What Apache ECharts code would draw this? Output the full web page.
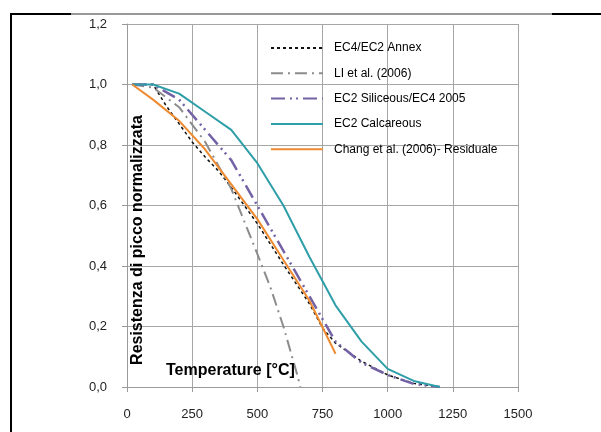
<!DOCTYPE html>
<html>
<head>
<meta charset="utf-8">
<script src="https://cdn.jsdelivr.net/npm/echarts@6/dist/echarts.min.js"></script>
<style>
  html, body { margin: 0; padding: 0; background: #fff; }
  #chart { width: 601px; height: 432px; }
</style>
</head>
<body>
<div id="chart"></div>
<script>
// temperature [°C] and normalised peak strength
const annexT = [20, 100, 150, 200, 250, 300, 350, 400, 450, 500, 600, 700, 750, 800, 900, 1000, 1100, 1200]
const annexK = [1.0, 1.0, 0.93, 0.87, 0.81, 0.76, 0.715, 0.66, 0.6, 0.54, 0.405, 0.275, 0.195, 0.145, 0.085, 0.04, 0.012, 0.0]

const liT = [20, 100, 200, 300, 400, 500, 550, 600, 650, 665]
const liK = [1.0, 0.99, 0.925, 0.81, 0.655, 0.44, 0.33, 0.2, 0.05, 0.0]

const silT = [20, 100, 200, 300, 400, 500, 600, 700, 800, 900, 1000, 1100, 1200]
const silK = [1.0, 1.0, 0.95, 0.85, 0.75, 0.6, 0.45, 0.3, 0.15, 0.08, 0.04, 0.01, 0.0]

const calT = [20, 100, 200, 300, 400, 500, 600, 700, 800, 900, 1000, 1100, 1200]
const calK = [1.0, 1.0, 0.97, 0.91, 0.85, 0.74, 0.6, 0.43, 0.27, 0.15, 0.06, 0.02, 0.0]

const changT = [20, 100, 200, 300, 400, 500, 600, 700, 800]
const changK = [1.0, 0.95, 0.88, 0.785, 0.67, 0.555, 0.42, 0.285, 0.11]

const names = ['EC4/EC2 Annex', 'LI et al. (2006)', 'EC2 Siliceous/EC4 2005', 'EC2 Calcareous', 'Chang et al. (2006)- Residuale']

const pairs = (t, k) => t.map((x, i) => [x, k[i]])
const font = 'Liberation Sans, Arial, sans-serif'

const line = (name, t, k, color, width, type) => ({
    name: name,
    type: 'line',
    data: pairs(t, k),
    symbol: 'none',
    showSymbol: false,
    lineStyle: { color: color, width: width, type: type },
    itemStyle: { color: color }
})

const myChart = echarts.init(document.getElementById('chart'))
myChart.setOption({
    animation: false,
    backgroundColor: '#fff',
    grid: { left: 127, right: 83, top: 24, bottom: 45 },
    legend: {
        orient: 'vertical',
        left: 270,
        top: 42,
        itemWidth: 52,
        itemHeight: 14,
        itemGap: 13.3,
        padding: 0,
        data: names,
        itemStyle: { opacity: 0 },
        textStyle: { fontFamily: font, fontSize: 12, color: '#000', padding: [0, 0, 0, 6] }
    },
    xAxis: {
        type: 'value',
        min: 0,
        max: 1500,
        interval: 250,
        axisLine: { lineStyle: { color: '#9a9a9a' } },
        axisTick: { show: true, length: 5, lineStyle: { color: '#9a9a9a' } },
        axisLabel: { margin: 21, fontFamily: font, fontSize: 13, color: '#222', formatter: v => String(v) },
        splitLine: { show: true, lineStyle: { color: '#a6a6a6', width: 1 } }
    },
    yAxis: {
        type: 'value',
        min: 0,
        max: 1.2,
        interval: 0.2,
        axisLine: { show: true, lineStyle: { color: '#9a9a9a' } },
        axisTick: { show: true, length: 5, lineStyle: { color: '#9a9a9a' } },
        axisLabel: {
            margin: 20, fontFamily: font, fontSize: 13, color: '#222',
            formatter: v => v.toFixed(1).replace('.', ',')
        },
        splitLine: { show: true, lineStyle: { color: '#a6a6a6', width: 1 } }
    },
    series: [
        line(names[0], annexT, annexK, '#111', 1.5, [3, 3]),
        line(names[1], liT, liK, '#8c8c8c', 2, [12, 5, 2, 5]),
        line(names[2], silT, silK, '#7462a6', 2.5, [14, 5, 2, 4, 2, 5]),
        line(names[3], calT, calK, '#2e9ea8', 2, 'solid'),
        line(names[4], changT, changK, '#ee8a30', 2, 'solid')
    ],
    graphic: [
        // frame pieces around the picture
        { type: 'line', shape: { x1: 11, y1: 14, x2: 601, y2: 14 }, style: { stroke: '#333', lineWidth: 1 } },
        { type: 'line', shape: { x1: 11, y1: 14, x2: 71, y2: 14 }, style: { stroke: '#000', lineWidth: 2 } },
        { type: 'line', shape: { x1: 552, y1: 14, x2: 601, y2: 14 }, style: { stroke: '#000', lineWidth: 2 } },
        { type: 'line', shape: { x1: 11, y1: 13, x2: 11, y2: 432 }, style: { stroke: '#000', lineWidth: 2 } },
        // axis titles sit inside the plot
        {
            type: 'text', left: 166, top: 363, z: 10,
            style: { text: 'Temperature [°C]', font: 'bold 16px ' + font, fill: '#000' }
        },
        {
            type: 'text', x: 138, y: 240, rotation: Math.PI / 2, z: 10,
            style: { text: 'Resistenza di picco normalizzata', font: 'bold 16px ' + font, fill: '#000', align: 'center', verticalAlign: 'middle' }
        }
    ]
})
</script>
</body>
</html>
